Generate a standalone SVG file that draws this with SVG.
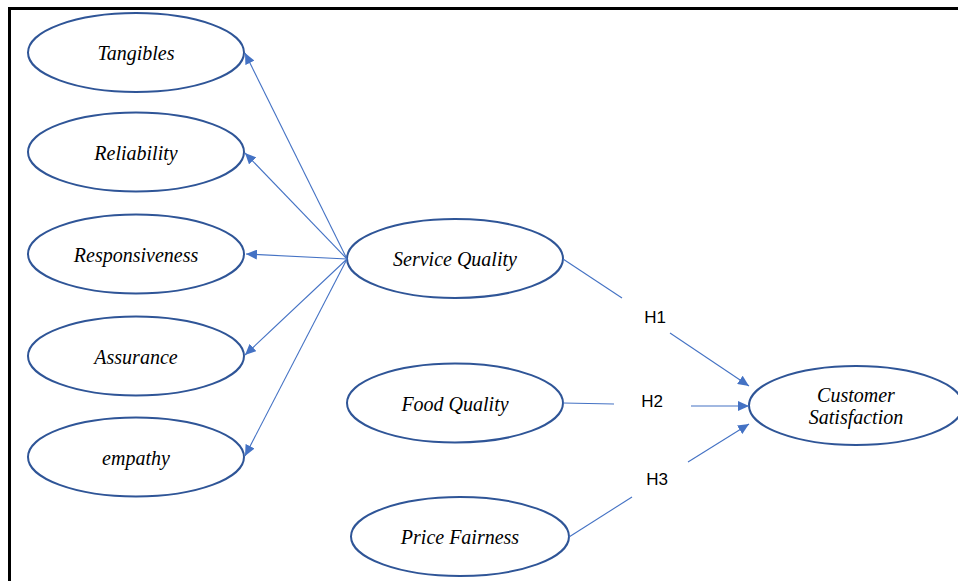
<svg xmlns="http://www.w3.org/2000/svg" width="958" height="581" viewBox="0 0 958 581">
<style>
.node ellipse{fill:#fff;stroke:#2F5597;stroke-width:2}
.node text{font-family:"Liberation Serif","Times New Roman",serif;font-style:italic;font-size:20px;fill:#000;text-anchor:middle}
.conn line{stroke:#4472C4;stroke-width:1.1;fill:none}
.lbl{font-family:"Liberation Sans",Arial,sans-serif;font-size:17px;fill:#000;text-anchor:middle}
</style>
<defs>
<marker id="ah" markerUnits="userSpaceOnUse" markerWidth="12" markerHeight="10" refX="11" refY="5" orient="auto">
<path d="M0,0 L11,5 L0,10 Z" fill="#4472C4"/>
</marker>
</defs>
<rect x="0" y="0" width="958" height="581" fill="#fff"/>
<path d="M9.5,581 V8.5 H958" fill="none" stroke="#000" stroke-width="3"/>
<g id="tangibles" class="node"><ellipse cx="136" cy="52.5" rx="108" ry="39.5"/><text x="136" y="60">Tangibles</text></g>
<g id="reliability" class="node"><ellipse cx="136" cy="152" rx="108" ry="39.5"/><text x="136" y="159.5">Reliability</text></g>
<g id="responsiveness" class="node"><ellipse cx="136" cy="254" rx="108" ry="39.5"/><text x="136" y="261.5">Responsiveness</text></g>
<g id="assurance" class="node"><ellipse cx="136" cy="356" rx="108" ry="39.5"/><text x="136" y="363.5">Assurance</text></g>
<g id="empathy" class="node"><ellipse cx="136" cy="457" rx="108" ry="39.5"/><text x="136" y="464.5">empathy</text></g>
<g id="service-quality" class="node"><ellipse cx="455" cy="258.5" rx="108" ry="39.5"/><text x="455" y="266">Service Quality</text></g>
<g id="food-quality" class="node"><ellipse cx="455" cy="403" rx="108" ry="39.5"/><text x="455" y="410.5">Food Quality</text></g>
<g id="price-fairness" class="node"><ellipse cx="460" cy="536.5" rx="109" ry="39.5"/><text x="460" y="544">Price Fairness</text></g>
<g id="customer-satisfaction" class="node"><ellipse cx="856" cy="405.5" rx="107" ry="39.5"/><text x="856" y="401.5">Customer</text><text x="856" y="423.5">Satisfaction</text></g>
<g id="connectors" class="conn">
<line x1="347" y1="259" x2="245" y2="53" marker-end="url(#ah)"/>
<line x1="347" y1="259" x2="245" y2="153" marker-end="url(#ah)"/>
<line x1="347" y1="259" x2="246" y2="254" marker-end="url(#ah)"/>
<line x1="347" y1="259" x2="245" y2="355" marker-end="url(#ah)"/>
<line x1="347" y1="259" x2="245" y2="456" marker-end="url(#ah)"/>
<line x1="563" y1="259" x2="622" y2="298"/>
<line x1="670" y1="333" x2="749" y2="386" marker-end="url(#ah)"/>
<line x1="563" y1="403" x2="614" y2="404"/>
<line x1="691" y1="406" x2="749" y2="406" marker-end="url(#ah)"/>
<line x1="569" y1="537" x2="632" y2="497"/>
<line x1="688" y1="462" x2="749" y2="424" marker-end="url(#ah)"/>
</g>
<g id="labels">
<text class="lbl" x="655" y="323">H1</text>
<text class="lbl" x="652" y="407">H2</text>
<text class="lbl" x="657" y="485">H3</text>
</g>
</svg>
